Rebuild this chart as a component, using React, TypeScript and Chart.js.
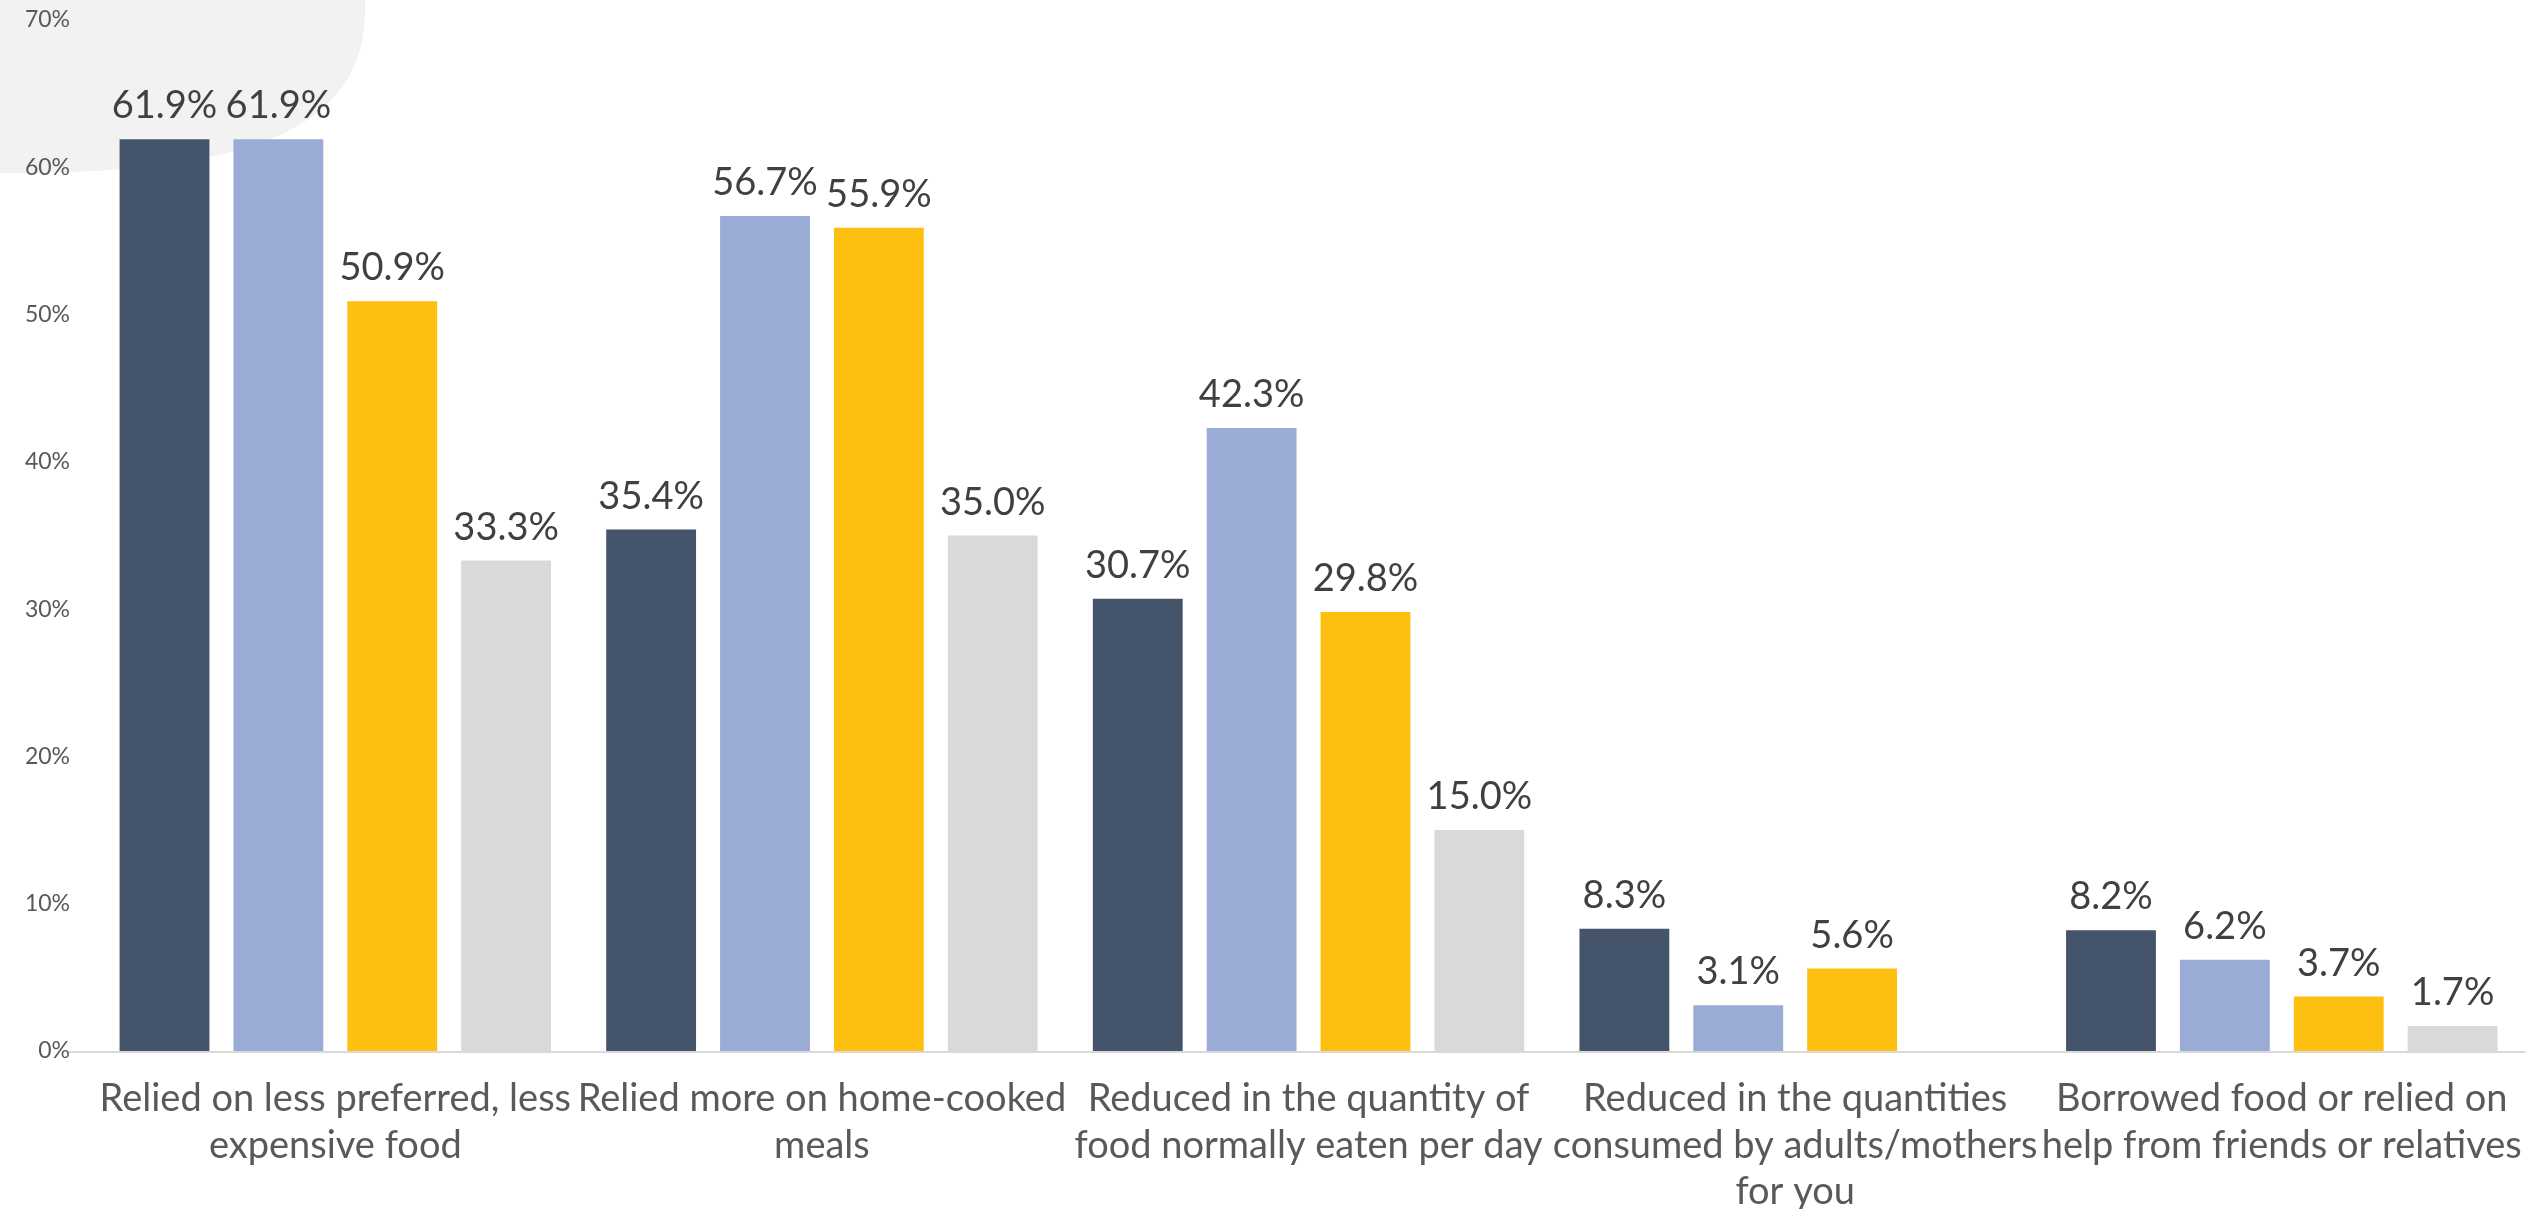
import { useEffect, useRef } from "react";
import { Chart, registerables } from "chart.js";

Chart.register(...registerables);

const categories: string[][] = [
  ["Relied on less preferred, less", "expensive food"],
  ["Relied more on home-cooked", "meals"],
  ["Reduced in the quantity of", "food normally eaten per day"],
  ["Reduced in the quantities", "consumed by adults/mothers", "for you"],
  ["Borrowed food or relied on", "help from friends or relatives"],
];

const seriesNames = ["Series 1", "Series 2", "Series 3", "Series 4"];
const series1 = [61.9, 35.4, 30.7, 8.3, 8.2];
const series2 = [61.9, 56.7, 42.3, 3.1, 6.2];
const series3 = [50.9, 55.9, 29.8, 5.6, 3.7];
const series4: (number | null)[] = [33.3, 35.0, 15.0, null, 1.7];
const seriesColors = ["#44546A", "#9AABD6", "#FDC010", "#D9D9D9"];

const yTicks = [0, 10, 20, 30, 40, 50, 60, 70];

const FONT = "Lato, 'Open Sans', sans-serif";

const blobPlugin = {
  id: "blob",
  beforeDraw(chart: any) {
    const ctx = chart.ctx;
    ctx.save();
    ctx.fillStyle = "#F2F2F2";
    ctx.beginPath();
    ctx.moveTo(0, 0);
    ctx.lineTo(365, 0);
    ctx.bezierCurveTo(370, 120, 270, 175, 0, 173);
    ctx.closePath();
    ctx.fill();
    ctx.restore();
  },
};

const baselinePlugin = {
  id: "baselineExt",
  afterDraw(chart: any) {
    const ctx = chart.ctx;
    const y = chart.scales.y.getPixelForValue(0);
    ctx.save();
    ctx.strokeStyle = "#D9D9D9";
    ctx.lineWidth = 2;
    ctx.beginPath();
    ctx.moveTo(69, y + 1);
    ctx.lineTo(chart.chartArea.right, y + 1);
    ctx.stroke();
    ctx.restore();
  },
};

const valueLabelPlugin = {
  id: "valueLabels",
  afterDatasetsDraw(chart: any) {
    const ctx = chart.ctx;
    ctx.save();
    ctx.font = `38px ${FONT}`;
    ctx.fillStyle = "#404040";
    ctx.textAlign = "center";
    ctx.textBaseline = "alphabetic";
    chart.data.datasets.forEach((ds: any, di: number) => {
      const meta = chart.getDatasetMeta(di);
      meta.data.forEach((bar: any, i: number) => {
        const v = ds.data[i];
        if (v === null || v === undefined) return;
        ctx.fillText(`${v.toFixed(1)}%`, bar.x, bar.y - 21);
      });
    });
    ctx.restore();
  },
};

export default function App() {
  const canvasRef = useRef<HTMLCanvasElement | null>(null);

  useEffect(() => {
    document.body.style.margin = "0";
    const canvas = canvasRef.current;
    if (!canvas) return;
    const data = [series1, series2, series3, series4];
    const chart = new Chart(canvas, {
      type: "bar",
      data: {
        labels: categories as any,
        datasets: data.map((d, i) => ({
          label: seriesNames[i],
          data: d as any,
          backgroundColor: seriesColors[i],
          borderWidth: 0,
          categoryPercentage: 0.936,
          barPercentage: 0.789,
        })),
      },
      options: {
        animation: false,
        responsive: false,
        maintainAspectRatio: false,
        layout: { padding: { top: 20, right: 2, left: 0, bottom: 0 } },
        plugins: {
          legend: { display: false },
          tooltip: { enabled: false },
        },
        scales: {
          x: {
            grid: { display: false },
            border: { display: false },
            ticks: {
              color: "#595959",
              font: { family: FONT, size: 38, lineHeight: 1.22 },
              padding: 17,
              maxRotation: 0,
              autoSkip: false,
            },
            afterFit: (scale: any) => {
              scale.height = 158;
            },
          },
          y: {
            min: 0,
            max: 70,
            afterBuildTicks: (scale: any) => {
              scale.ticks = yTicks.map((v) => ({ value: v }));
            },
            grid: { display: false, drawTicks: false },
            border: { display: false },
            ticks: {
              color: "#595959",
              font: { family: FONT, size: 23 },
              padding: 22,
              callback: (v: any) => `${v}%`,
            },
            afterFit: (scale: any) => {
              scale.width = 92;
              scale.paddingTop = 0;
              scale.paddingBottom = 0;
            },
          },
        },
      },
      plugins: [blobPlugin, baselinePlugin, valueLabelPlugin],
    });
    return () => chart.destroy();
  }, []);

  return (
    <div style={{ width: 2539, height: 1209 }}>
      <canvas ref={canvasRef} width={2539} height={1209} style={{ display: "block" }} />
    </div>
  );
}
